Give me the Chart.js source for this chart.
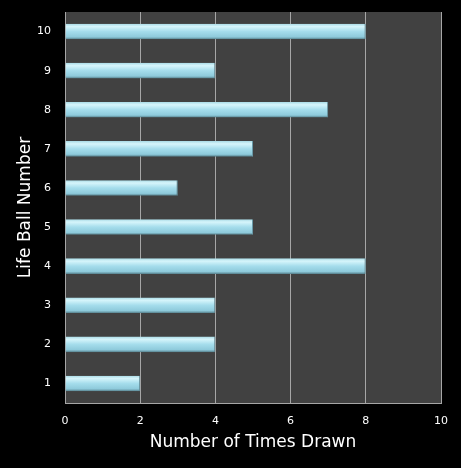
<!DOCTYPE html>
<html>
<head>
<meta charset="utf-8">
<script src="https://cdn.jsdelivr.net/npm/chart.js@4"></script>
<style>
  html, body { margin: 0; padding: 0; background: #000; }
  #wrap { width: 461px; height: 468px; }
</style>
</head>
<body>
<div id="wrap"><canvas id="life_ball"></canvas></div>
<script>
//
// Life ball numbers and how many times each one was drawn
//
const ball_numbers = [ "1", "2", "3", "4", "5", "6", "7", "8", "9", "10" ];
const times_drawn = [ 2, 4, 4, 8, 5, 3, 5, 7, 4, 8 ];
const x_ticks = [ 0, 2, 4, 6, 8, 10 ];

const BAR_PCT = 0.42;
const CAT_PCT = 0.95;

// paints the grey plot area behind the bars
const plot_background = {
	id: "plot_background",
	beforeDraw( chart ) {
		const { ctx, chartArea } = chart;
		ctx.save();
		ctx.fillStyle = "#414141";
		ctx.fillRect( chartArea.left, chartArea.top, chartArea.right - chartArea.left, chartArea.bottom - chartArea.top );
		ctx.restore();
	}
};

// cylinder-like shading for each bar, placed from the category scale
function bar_fill( context ) {
	const chart = context.chart;
	const y_scale = chart.scales.y;
	if ( !chart.chartArea || !y_scale || context.dataIndex === undefined ) return "#9dd9e8";
	const centre = y_scale.getPixelForValue( context.dataIndex );
	const half = ( y_scale.height / ball_numbers.length ) * BAR_PCT * CAT_PCT / 2;
	const grad = chart.ctx.createLinearGradient( 0, centre - half, 0, centre + half );
	grad.addColorStop( 0, "#a9dbe6" );
	grad.addColorStop( 0.18, "#d6f5fb" );
	grad.addColorStop( 0.5, "#a5ddec" );
	grad.addColorStop( 0.85, "#8ecadb" );
	grad.addColorStop( 1, "#557f8b" );
	return grad;
}

new Chart( document.getElementById( "life_ball" ),
	{
		type: "bar",
		data: {
			labels: ball_numbers,
			datasets: [
				{
					data: times_drawn,
					backgroundColor: bar_fill,
					borderColor: "#6a9aa8",
					borderWidth: { top: 0, left: 0, bottom: 0, right: 1 },
					borderSkipped: false,
					barPercentage: BAR_PCT,
					categoryPercentage: CAT_PCT
				}
			]
		},
		options: {
			indexAxis: "y",
			responsive: true,
			maintainAspectRatio: false,
			animation: false,
			layout: {
				padding: { top: 12, right: 20, left: 0, bottom: 15 }
			},
			plugins: {
				legend: { display: false },
				tooltip: { enabled: false }
			},
			scales: {
				x: {
					min: 0,
					max: 10,
					afterBuildTicks( axis ) {
						axis.ticks = x_ticks.map( v => ( { value: v } ) );
					},
					afterFit( axis ) {
						axis.height = 50;
					},
					grid: {
						color: "#a6a6a6",
						lineWidth: 1,
						drawTicks: false
					},
					border: { color: "#a6a6a6" },
					ticks: {
						color: "#ffffff",
						padding: 12,
						font: { size: 11, family: "DejaVu Sans" }
					},
					title: {
						display: true,
						text: "Number of Times Drawn",
						color: "#ffffff",
						font: { size: 17, family: "DejaVu Sans" },
						padding: { top: 4, bottom: 0 }
					}
				},
				y: {
					reverse: true,
					afterFit( axis ) {
						axis.width = 65;
						axis.paddingTop = 0;
						axis.paddingBottom = 0;
					},
					grid: { display: false, drawTicks: false },
					border: { color: "#a6a6a6" },
					ticks: {
						color: "#ffffff",
						padding: 14,
						font: { size: 11, family: "DejaVu Sans" }
					},
					title: {
						display: true,
						text: "Life Ball Number",
						color: "#ffffff",
						font: { size: 17, family: "DejaVu Sans" },
						padding: { top: 15, bottom: 0 }
					}
				}
			}
		},
		plugins: [ plot_background ]
	} );
</script>
</body>
</html>
